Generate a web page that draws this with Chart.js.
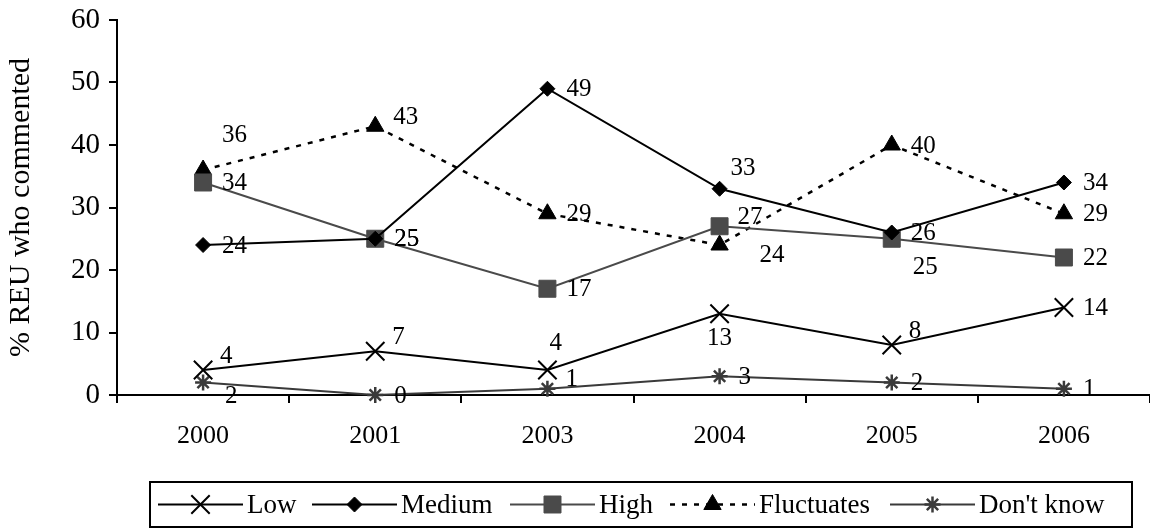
<!DOCTYPE html>
<html>
<head>
<meta charset="utf-8">
<script src="https://cdn.jsdelivr.net/npm/chart.js@4.4.1/dist/chart.umd.min.js"></script>
<style>
  body { margin: 0; background: #fff; }
  #chart { display: block; }
</style>
</head>
<body>
<canvas id="chart" width="1150" height="530"></canvas>
<script>
const years = ["2000", "2001", "2003", "2004", "2005", "2006"];
const low = [4, 7, 4, 13, 8, 14];
const medium = [24, 25, 49, 33, 26, 34];
const high = [34, 25, 17, 27, 25, 22];
const fluctuates = [36, 43, 29, 24, 40, 29];
const dontKnow = [2, 0, 1, 3, 2, 1];
const yMin = 0, yMax = 60, yStep = 10;

// where each value label sits next to its point
const lowLabelPos = ["ar", "ar", "a", "b", "ar", "r"];
const mediumLabelPos = ["r", "r", "r", "aa", "r", "r"];
const highLabelPos = ["r", "r", "r", "ru", "br", "r"];
const fluctLabelPos = ["au", "ru", "r", "rb", "r", "r"];
const dontKnowLabelPos = ["rd", "r", "ru", "r", "r", "r"];

const FONT = "Liberation Serif";
const GREY = "#4a4a4a";

const labelOffsets = {
  r: [19, 0], ru: [18, -10], ar: [17, -15], aa: [11, -21], au: [19, -36], a: [2, -28],
  b: [0, 24, "center"], br: [21, 28], rb: [40, 9], rd: [22, 13]
};

// legend item start x, taken from the reference layout
const legendStarts = [158, 312, 510, 670, 890];

const valueLabels = {
  id: "valueLabels",
  afterDatasetsDraw(chart) {
    const ctx = chart.ctx;
    ctx.save();
    ctx.font = `25px "${FONT}"`;
    ctx.fillStyle = "#000";
    ctx.textBaseline = "middle";
    chart.data.datasets.forEach((ds, i) => {
      const meta = chart.getDatasetMeta(i);
      meta.data.forEach((pt, j) => {
        const off = labelOffsets[ds.labelPos[j]] || labelOffsets.r;
        ctx.textAlign = off[2] || "left";
        ctx.fillText(String(ds.data[j]), pt.x + off[0], pt.y + off[1] + 1);
      });
    });
    ctx.restore();
  }
};

const boxLegend = {
  id: "boxLegend",
  afterDraw(chart) {
    const ctx = chart.ctx;
    const top = 482, bottom = 527, left = 150, right = 1132;
    const midY = (top + bottom) / 2;
    ctx.save();
    ctx.lineWidth = 2;
    ctx.strokeStyle = "#000";
    ctx.strokeRect(left, top, right - left, bottom - top);
    ctx.font = `27px "${FONT}"`;
    ctx.textBaseline = "middle";
    ctx.textAlign = "left";
    chart.data.datasets.forEach((ds, i) => {
      const x = legendStarts[i];
      const lineLen = 85;
      ctx.save();
      ctx.strokeStyle = ds.borderColor;
      ctx.lineWidth = ds.borderWidth;
      ctx.setLineDash(ds.borderDash || []);
      ctx.beginPath();
      ctx.moveTo(x, midY);
      ctx.lineTo(x + lineLen, midY);
      ctx.stroke();
      ctx.restore();
      ctx.save();
      ctx.setLineDash([]);
      ctx.fillStyle = ds.pointBackgroundColor;
      ctx.strokeStyle = ds.pointBorderColor;
      ctx.lineWidth = ds.pointBorderWidth;
      Chart.helpers.drawPoint(ctx, { pointStyle: ds.pointStyle, radius: ds.pointRadius, rotation: 0, borderWidth: ds.pointBorderWidth }, x + lineLen / 2, midY);
      ctx.restore();
      ctx.fillStyle = "#000";
      ctx.fillText(ds.label, x + lineLen + 4, midY + 1);
    });
    ctx.restore();
  }
};

function series(label, data, labelPos, color, style, radius, extra) {
  return Object.assign({
    label, data, labelPos,
    borderColor: color,
    borderWidth: 2,
    pointStyle: style,
    pointRadius: radius,
    pointHoverRadius: radius,
    pointBackgroundColor: color,
    pointBorderColor: color,
    pointBorderWidth: 2,
    tension: 0,
    fill: false,
    clip: false
  }, extra || {});
}

new Chart(document.getElementById("chart"), {
  type: "line",
  data: {
    labels: years,
    datasets: [
      series("Low", low, lowLabelPos, "#000", "crossRot", 13),
      series("Medium", medium, mediumLabelPos, "#000", "rectRot", 7.5, { pointBorderWidth: 1 }),
      series("High", high, highLabelPos, GREY, "rect", 12, { pointBorderWidth: 1 }),
      series("Fluctuates", fluctuates, fluctLabelPos, "#000", "triangle", 10, { borderDash: [5, 7], pointBorderWidth: 1, borderWidth: 2.5 }),
      series("Don't know", dontKnow, dontKnowLabelPos, "#3a3a3a", "star", 8, { pointBorderWidth: 2.5 })
    ]
  },
  options: {
    responsive: false,
    animation: false,
    layout: { autoPadding: false, padding: { top: 20, right: 0, bottom: 0, left: 0 } },
    plugins: {
      legend: { display: false },
      tooltip: { enabled: false }
    },
    scales: {
      x: {
        offset: true,
        afterFit: s => { s.height = 135; s.paddingLeft = 0; s.paddingRight = 0; },
        grid: { display: true, drawOnChartArea: false, drawTicks: true, tickLength: 8, color: "#000", lineWidth: 2, offset: true },
        border: { display: true, color: "#000", width: 2 },
        ticks: { color: "#000", font: { family: FONT, size: 26 }, padding: 18, maxRotation: 0 }
      },
      y: {
        min: yMin,
        max: yMax,
        afterFit: s => { s.width = 117; s.paddingTop = 0; s.paddingBottom = 0; },
        grid: { display: true, drawOnChartArea: false, drawTicks: true, tickLength: 8, color: "#000", lineWidth: 2 },
        border: { display: true, color: "#000", width: 2 },
        ticks: { stepSize: yStep, color: "#000", font: { family: FONT, size: 29 }, padding: 9 },
        title: { display: true, text: "% REU who commented", color: "#000", font: { family: FONT, size: 30 }, padding: { top: 3, bottom: 0 } }
      }
    }
  },
  plugins: [valueLabels, boxLegend]
});
</script>
</body>
</html>
